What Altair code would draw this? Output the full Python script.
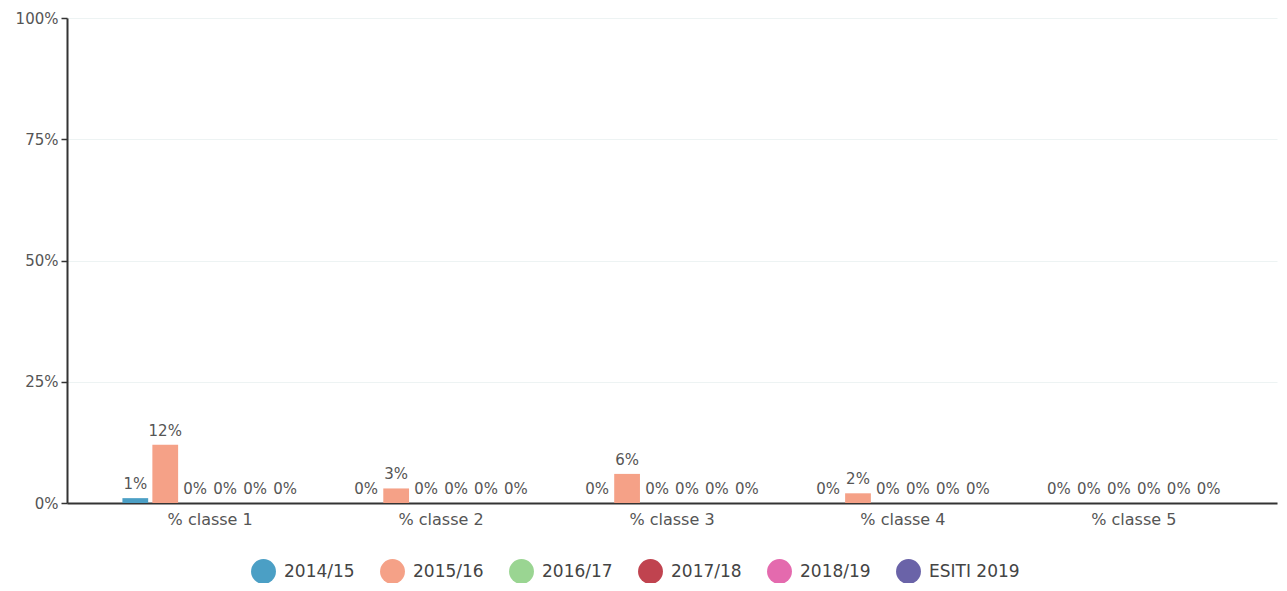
import altair as alt
import pandas as pd

categories = ["% classe 1", "% classe 2", "% classe 3", "% classe 4", "% classe 5"]
series = ["2014/15", "2015/16", "2016/17", "2017/18", "2018/19", "ESITI 2019"]
colors = ["#4b9fc5", "#f5a187", "#9ad592", "#c0434f", "#e46aae", "#6a63a8"]

v_2014_15 = [1, 0, 0, 0, 0]
v_2015_16 = [12, 3, 6, 2, 0]
v_2016_17 = [0, 0, 0, 0, 0]
v_2017_18 = [0, 0, 0, 0, 0]
v_2018_19 = [0, 0, 0, 0, 0]
v_esiti_2019 = [0, 0, 0, 0, 0]

values = [v_2014_15, v_2015_16, v_2016_17, v_2017_18, v_2018_19, v_esiti_2019]
rows = []
for s, vals in zip(series, values):
    for c, v in zip(categories, vals):
        rows.append({"cat": c, "serie": s, "val": v / 100.0, "label": f"{v}%"})
df = pd.DataFrame(rows)

FONT = "DejaVu Sans"
TXT = "#555555"

x = alt.X("cat:N", sort=categories, title=None,
          scale=alt.Scale(paddingInner=0.24, paddingOuter=0.24),
          axis=alt.Axis(labelAngle=0, labelFontSize=16, labelColor=TXT, labelFont=FONT,
                        ticks=False, domainColor="#333333", domainWidth=2, labelPadding=8))
xo = alt.XOffset("serie:N", sort=series, scale=alt.Scale(paddingInner=0.14))
y = alt.Y("val:Q", title=None,
          scale=alt.Scale(domain=[0, 1]),
          axis=alt.Axis(values=[0, 0.25, 0.5, 0.75, 1], format=".0%", labelFontSize=15,
                        labelColor=TXT, labelFont=FONT, domainColor="#333333",
                        domainWidth=2, tickColor="#333333", tickSize=6, tickWidth=1.5,
                        gridColor="#edf3f3", gridWidth=1, labelPadding=3))
color = alt.Color("serie:N", sort=series, scale=alt.Scale(domain=series, range=colors),
                  legend=alt.Legend(title=None, orient="none", direction="horizontal",
                                    legendX=184, legendY=541,
                                    symbolType="circle", symbolSize=620, symbolStrokeWidth=0,
                                    labelFontSize=17, labelColor="#444444", labelFont=FONT,
                                    columnPadding=25, symbolOffset=0, labelOffset=8,
                                    symbolOpacity=1))

bars = alt.Chart(df).mark_bar().encode(x=x, xOffset=xo, y=y, color=color)
labels = alt.Chart(df).mark_text(baseline="bottom", dy=-6, fontSize=15, color=TXT,
                                 font=FONT).encode(
    x=x, xOffset=xo, y=y, text="label:N")

chart = alt.layer(bars, labels).properties(
    width=1210, height=485,
    autosize=alt.AutoSizeParams(type="none"),
    padding={"left": 59, "top": 10, "right": 2, "bottom": 80},
).configure_view(stroke=None)

chart.save("out.html", embed_options={"renderer": "svg", "actions": False})
